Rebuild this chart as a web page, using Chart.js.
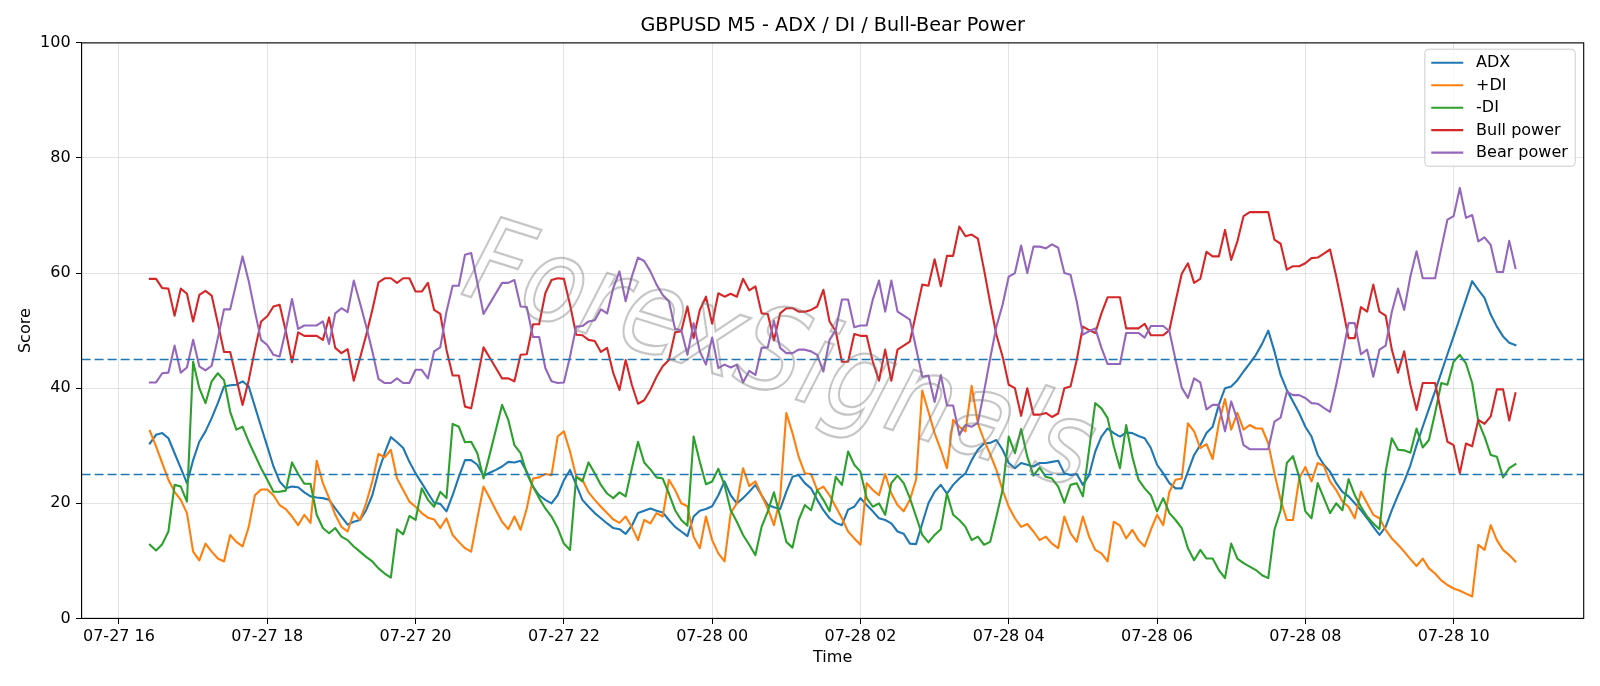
<!DOCTYPE html>
<html>
<head>
<meta charset="utf-8">
<script src="https://cdn.jsdelivr.net/npm/chart.js@4.4.1/dist/chart.umd.min.js"></script>
<style>
html,body{margin:0;padding:0;background:#ffffff;}
#wrap{width:1600px;height:686px;position:relative;}
canvas{display:block;}
</style>
</head>
<body>
<div id="wrap"><canvas id="c" width="1600" height="686"></canvas></div>
<script>
// ---------------- data ----------------
const chartTitle = "GBPUSD M5 - ADX / DI / Bull-Bear Power";
const xTitle = "Time";
const yTitle = "Score";
const startMinute = 16 * 60 + 25;   // 07-27 16:25 (minutes since 07-27 00:00)
const stepMinutes = 5;              // M5 bars

const adx = [
  30.4,31.9,32.2,31.3,28.7,26.1,23.5,27.5,30.7,32.5,
  34.8,37.4,40.3,40.5,40.6,41.2,40.3,36.8,33.3,29.9,
  26.4,23.8,22.6,22.9,22.8,21.9,21.2,21.0,20.9,20.6,
  19.1,17.7,16.3,16.8,17.1,18.8,21.4,25.5,28.7,31.5,
  30.6,29.6,27.2,25.2,23.5,21.8,20.1,19.9,18.6,21.4,
  24.6,27.5,27.5,26.7,24.8,25.3,25.8,26.4,27.2,27.1,
  27.4,25.5,22.9,21.4,20.6,20.0,21.4,24.0,25.8,23.2,
  20.6,19.4,18.3,17.4,16.5,15.7,15.5,14.7,16.1,18.3,
  18.7,19.1,18.7,18.4,17.1,15.9,15.1,14.3,17.7,18.7,
  19.0,19.5,21.4,23.8,21.4,20.0,20.9,22.0,23.2,21.4,
  19.7,19.3,19.0,22.0,24.6,24.9,23.5,22.6,20.6,18.8,
  17.4,16.6,16.2,18.9,19.4,20.9,19.7,18.6,17.4,17.1,
  16.5,15.1,14.7,13.0,12.9,16.5,20.0,22.0,23.2,21.7,
  23.2,24.3,25.2,27.5,29.3,30.4,30.5,31.0,29.3,27.0,
  26.1,27.0,26.7,26.4,27.0,27.0,27.2,27.4,25.2,24.9,
  25.1,23.2,24.9,29.0,31.6,33.0,32.2,31.6,32.3,32.2,
  31.7,31.3,29.6,26.7,25.2,23.5,22.6,22.6,25.5,28.4,
  30.1,32.2,33.3,37.1,40.0,40.3,41.4,42.9,44.3,45.8,
  47.7,50.0,46.4,42.3,39.7,37.7,35.7,33.3,31.6,28.4,
  26.7,25.5,23.5,22.0,21.2,20.0,18.8,17.4,15.9,14.5,
  15.9,18.8,21.4,23.8,26.6,30.1,33.3,36.4,39.5,42.7,
  45.9,49.0,52.2,55.4,58.6,57.1,55.7,52.8,50.7,49.0,
  47.9,47.5
];

const plusDI = [
  32.6,29.9,27.0,24.1,22.0,20.6,18.3,11.6,10.1,13.0,
  11.6,10.4,9.9,14.5,13.3,12.5,15.9,21.4,22.4,22.4,
  21.4,19.7,19.0,17.7,16.2,18.0,16.6,27.4,23.5,20.9,
  18.0,15.9,15.1,18.4,17.1,20.0,23.8,28.6,28.0,29.3,
  24.3,22.3,20.3,19.4,18.3,17.5,17.2,15.7,17.4,14.5,
  13.3,12.2,11.6,17.4,22.9,20.9,18.8,16.8,15.5,17.7,
  15.4,19.1,24.3,24.5,25.1,24.9,31.6,32.5,29.0,24.6,
  24.1,21.9,20.6,19.4,18.3,17.2,16.6,17.7,15.9,13.6,
  17.1,16.5,18.3,17.7,24.1,22.3,20.0,19.5,14.2,12.2,
  17.7,13.6,11.3,9.9,18.3,20.0,26.1,23.0,23.8,21.4,
  19.1,16.2,20.9,35.7,32.2,28.1,25.2,25.1,22.3,22.9,
  21.4,19.4,17.4,15.1,13.9,12.8,23.5,22.3,21.4,25.1,
  21.7,19.7,18.6,20.6,24.1,39.6,35.9,32.2,29.3,26.1,
  34.5,33.3,32.5,40.4,33.9,31.0,28.5,25.8,22.3,19.4,
  17.4,15.9,16.4,15.1,13.6,14.2,13.0,12.2,17.7,14.8,
  13.3,17.7,14.2,11.9,11.3,9.9,16.8,16.1,13.9,15.4,
  13.6,12.5,15.4,18.0,16.2,22.0,24.1,24.3,33.9,32.5,
  29.6,30.3,27.7,33.9,38.1,32.8,35.7,32.8,33.6,33.0,
  33.0,30.4,25.2,20.6,17.1,17.1,24.3,26.3,23.8,27.0,
  26.5,23.8,22.3,20.3,19.4,17.4,22.0,20.0,18.0,17.4,
  15.4,13.9,12.8,11.6,10.3,9.1,10.4,8.7,7.8,6.6,
  5.8,5.2,4.8,4.3,3.8,12.8,11.9,16.2,13.6,11.9,
  11.0,9.9
];

const minusDI = [
  12.8,11.8,12.9,15.1,23.2,22.9,20.3,44.6,40.0,37.4,
  41.2,42.6,41.4,35.9,32.8,33.3,30.7,28.4,26.1,24.1,
  22.0,22.0,22.2,27.1,25.1,23.4,23.4,18.0,15.7,14.8,
  15.7,14.2,13.6,12.5,11.6,10.7,9.9,8.7,7.8,7.1,
  15.5,14.6,17.8,17.1,22.6,20.6,19.4,22.0,20.9,33.8,
  33.3,30.6,30.7,28.7,24.3,28.5,32.8,37.1,34.5,30.1,
  28.7,25.2,22.9,20.9,19.1,17.7,15.7,13.0,11.9,24.6,
  23.8,27.1,25.2,23.2,21.7,20.9,21.9,21.2,26.1,30.7,
  27.1,25.9,24.5,24.3,21.7,18.8,17.1,16.1,31.6,27.2,
  23.3,23.8,26.0,23.2,18.8,16.8,14.5,12.8,11.0,15.9,
  18.6,21.9,17.7,13.3,12.3,17.1,19.7,18.8,22.3,20.6,
  18.6,24.6,23.2,29.0,26.7,25.5,20.9,19.4,20.0,18.0,
  23.5,24.8,23.5,20.9,17.7,14.5,13.2,14.5,15.5,21.7,
  18.0,17.1,15.9,13.6,14.2,12.8,13.3,17.7,22.3,31.6,
  28.7,32.9,28.1,24.8,26.2,24.6,24.3,22.9,20.1,23.2,
  23.5,21.2,29.3,37.4,36.5,34.8,29.9,26.1,33.6,28.1,
  24.1,22.6,21.4,18.6,20.9,18.3,17.1,15.7,12.2,10.1,
  11.9,10.4,10.4,8.4,7.0,13.0,10.4,9.6,9.0,8.4,
  7.5,7.0,15.4,18.8,27.0,28.2,24.6,18.6,17.4,23.5,
  20.9,18.3,20.0,18.8,24.2,21.4,19.4,17.7,16.5,15.5,
  25.5,31.3,29.3,29.2,28.8,33.0,29.7,31.0,35.7,40.9,
  40.6,44.6,45.8,44.3,40.9,34.2,31.6,28.4,28.1,24.5,
  26.1,26.8
];

const bullPower = [
  59.0,59.0,57.4,57.3,52.6,57.3,56.4,51.6,56.2,56.9,
  56.1,51.3,46.3,46.3,41.7,37.1,41.4,46.7,51.6,52.5,
  54.2,54.5,49.9,44.5,49.7,49.1,49.1,49.1,48.4,52.3,
  47.0,46.1,46.8,41.3,45.2,49.2,53.6,58.4,59.1,59.1,
  58.3,59.1,59.1,56.8,56.8,58.3,53.6,52.9,46.7,42.2,
  42.2,36.8,36.5,41.7,47.1,45.3,43.5,41.7,41.7,41.2,
  45.8,45.9,51.1,51.1,56.5,58.8,59.1,59.0,54.5,49.3,
  49.2,48.4,48.2,46.3,47.0,42.6,39.7,44.9,40.6,37.3,
  37.9,39.7,42.0,43.8,44.9,49.7,49.9,54.2,48.7,53.6,
  55.9,51.2,56.5,55.9,56.4,55.9,59.0,57.0,57.7,53.0,
  52.9,48.3,53.0,53.9,53.9,53.3,53.3,53.6,54.2,57.1,
  51.6,49.9,44.6,44.6,49.4,49.1,49.1,44.6,41.3,46.7,
  41.3,46.7,47.4,48.1,53.0,58.0,57.8,62.4,57.7,63.0,
  63.0,68.1,66.4,66.7,66.0,60.6,54.8,49.3,45.5,40.6,
  40.0,35.2,40.0,35.4,35.4,35.7,35.0,35.6,40.0,40.3,
  44.9,50.7,50.1,49.6,53.0,55.8,55.8,55.8,50.4,50.4,
  50.4,51.2,49.2,49.2,49.2,50.1,55.1,59.9,61.7,58.3,
  59.0,63.7,62.9,62.9,67.5,62.3,65.5,69.9,70.6,70.6,
  70.6,70.6,65.8,65.1,60.6,61.2,61.2,61.7,62.6,62.7,
  63.4,64.1,59.4,54.2,48.7,48.7,54.1,53.3,58.0,53.3,
  52.6,46.7,42.7,46.4,40.6,36.2,40.9,40.9,40.9,35.7,
  30.7,30.1,25.2,30.4,29.9,34.5,33.8,35.1,39.8,39.8,
  34.4,39.1
];

const bearPower = [
  41.0,41.0,42.6,42.7,47.4,42.7,43.6,48.4,43.8,43.1,
  43.9,48.7,53.7,53.7,58.3,62.9,58.6,53.3,48.4,47.5,
  45.8,45.5,50.1,55.5,50.3,50.9,50.9,50.9,51.6,47.7,
  53.0,53.9,53.2,58.7,54.8,50.8,46.4,41.6,40.9,40.9,
  41.7,40.9,40.9,43.2,43.2,41.7,46.4,47.1,53.3,57.8,
  57.8,63.2,63.5,58.3,52.9,54.7,56.5,58.3,58.3,58.8,
  54.2,54.1,48.9,48.9,43.5,41.2,40.9,41.0,45.5,50.7,
  50.8,51.6,51.8,53.7,53.0,57.4,60.3,55.1,59.4,62.7,
  62.1,60.3,58.0,56.2,55.1,50.3,50.1,45.8,51.3,46.4,
  44.1,48.8,43.5,44.1,43.6,44.1,41.0,43.0,42.3,47.0,
  47.1,51.7,47.0,46.1,46.1,46.7,46.7,46.4,45.8,42.9,
  48.4,50.1,55.4,55.4,50.6,50.9,50.9,55.4,58.7,53.3,
  58.7,53.3,52.6,51.9,47.0,42.0,42.2,37.6,42.3,37.0,
  37.0,31.9,33.6,33.3,34.0,39.4,45.2,50.7,54.5,59.4,
  60.0,64.8,60.0,64.6,64.6,64.3,65.0,64.4,60.0,59.7,
  55.1,49.3,49.9,50.4,47.0,44.2,44.2,44.2,49.6,49.6,
  49.6,48.8,50.8,50.8,50.8,49.9,44.9,40.1,38.3,41.7,
  41.0,36.3,37.1,37.1,32.5,37.7,34.5,30.1,29.4,29.4,
  29.4,29.4,34.2,34.9,39.4,38.8,38.8,38.3,37.4,37.3,
  36.6,35.9,40.6,45.8,51.3,51.3,45.9,46.7,42.0,46.7,
  47.4,53.3,57.3,53.6,59.4,63.8,59.1,59.1,59.1,64.3,
  69.3,69.9,74.8,69.6,70.1,65.5,66.2,64.9,60.2,60.2,
  65.6,60.9
];

const seriesLabels = ["ADX", "+DI", "-DI", "Bull power", "Bear power"];
const referenceLevels = [45, 25];
const tickHours = [16, 18, 20, 22, 24, 26, 28, 30, 32, 34];
const tickLabels = ["07-27 16","07-27 18","07-27 20","07-27 22","07-28 00","07-28 02","07-28 04","07-28 06","07-28 08","07-28 10"];
const yTicks = [0, 20, 40, 60, 80, 100];
const watermarkText = "ForexSignals";

// ---------------- style ----------------
const colors = ["#1f77b4", "#ff7f0e", "#2ca02c", "#d62728", "#9467bd"];
const FONT = '"DejaVu Sans", "Liberation Sans", sans-serif';
const FS = 16;        // tick / label / legend font size (px)
const TITLE_FS = 19.2;
const seriesValues = [adx, plusDI, minusDI, bullPower, bearPower];

const times = adx.map((_, i) => startMinute + i * stepMinutes);
const tMin = times[0], tMax = times[times.length - 1];
const margin = (tMax - tMin) * 0.05;

const datasets = seriesValues.map((vals, k) => ({
  label: seriesLabels[k],
  data: vals.map((v, i) => ({ x: times[i], y: v })),
  borderColor: colors[k],
  backgroundColor: colors[k],
  borderWidth: 2.1,
  pointRadius: 0,
  pointHoverRadius: 0,
  tension: 0,
  fill: false,
  borderJoinStyle: 'round',
  borderCapStyle: 'square',
  order: seriesValues.length - 1 - k
}));

const decorPlugin = {
  id: 'decor',
  afterDatasetsDraw(chart) {
    const { ctx, chartArea: a, scales: { y } } = chart;
    ctx.save();
    ctx.beginPath();
    ctx.rect(a.left, a.top, a.right - a.left, a.bottom - a.top);
    ctx.clip();
    // reference lines
    ctx.strokeStyle = '#1f77b4';
    ctx.lineWidth = 1.6;
    ctx.setLineDash([9, 4]);
    referenceLevels.forEach(v => {
      const py = y.getPixelForValue(v);
      ctx.beginPath();
      ctx.moveTo(a.left, py);
      ctx.lineTo(a.right, py);
      ctx.stroke();
    });
    ctx.setLineDash([]);
    // watermark
    ctx.translate(778, 362);
    ctx.rotate(17.5 * Math.PI / 180);
    ctx.font = 'italic 90px ' + FONT;
    const w = ctx.measureText(watermarkText).width;
    const sc = 650 / w;
    ctx.scale(sc, sc * 1.15);
    ctx.textAlign = 'center';
    ctx.textBaseline = 'middle';
    ctx.strokeStyle = 'rgba(120,120,120,0.42)';
    ctx.lineWidth = 2.0 / sc;
    ctx.strokeText(watermarkText, 0, 0);
    ctx.restore();
  },
  afterDraw(chart) {
    const { ctx, chartArea: a } = chart;
    ctx.save();
    // title centred over the axes (matplotlib style)
    ctx.font = TITLE_FS + 'px ' + FONT;
    ctx.fillStyle = '#000';
    ctx.textAlign = 'center';
    ctx.textBaseline = 'middle';
    ctx.fillText(chartTitle, (a.left + a.right) / 2, 26);
    // spines
    ctx.strokeStyle = '#000';
    ctx.lineWidth = 1.1;
    ctx.strokeRect(a.left, a.top, a.right - a.left, a.bottom - a.top);
    // legend (matplotlib-like, upper right)
    ctx.font = FS + 'px ' + FONT;
    const textW = Math.max(...seriesLabels.map(s => ctx.measureText(s).width));
    const borderPad = 0.4 * FS, handleLen = 2.0 * FS, handleTextPad = 0.8 * FS;
    const boxW = 2 * borderPad + handleLen + handleTextPad + textW + 1;
    const rowH = 22.45;
    const firstRow = 13.6;
    const boxH = firstRow * 2 + rowH * (seriesLabels.length - 1);
    const right = a.right - 8.5;
    const top = a.top + 6.3;
    const left = right - boxW;
    const r = 3.5;
    ctx.beginPath();
    ctx.moveTo(left + r, top);
    ctx.lineTo(right - r, top);
    ctx.quadraticCurveTo(right, top, right, top + r);
    ctx.lineTo(right, top + boxH - r);
    ctx.quadraticCurveTo(right, top + boxH, right - r, top + boxH);
    ctx.lineTo(left + r, top + boxH);
    ctx.quadraticCurveTo(left, top + boxH, left, top + boxH - r);
    ctx.lineTo(left, top + r);
    ctx.quadraticCurveTo(left, top, left + r, top);
    ctx.closePath();
    ctx.fillStyle = 'rgba(255,255,255,0.8)';
    ctx.fill();
    ctx.strokeStyle = '#cccccc';
    ctx.lineWidth = 1;
    ctx.stroke();
    ctx.textAlign = 'left';
    ctx.textBaseline = 'middle';
    seriesLabels.forEach((lab, k) => {
      const cy = top + firstRow + k * rowH;
      ctx.strokeStyle = colors[k];
      ctx.lineWidth = 2.1;
      ctx.beginPath();
      ctx.moveTo(left + borderPad, cy);
      ctx.lineTo(left + borderPad + handleLen, cy);
      ctx.stroke();
      ctx.fillStyle = '#000';
      ctx.fillText(lab, left + borderPad + handleLen + handleTextPad, cy + 0.5);
    });
    ctx.restore();
  }
};

const gridColor = 'rgba(176,176,176,0.35)';

new Chart(document.getElementById('c'), {
  type: 'line',
  data: { datasets },
  plugins: [decorPlugin],
  options: {
    responsive: false,
    animation: false,
    devicePixelRatio: 1,
    layout: { padding: { left: 0, right: 16.3, top: 42.9, bottom: 0 } },
    plugins: {
      legend: { display: false },
      tooltip: { enabled: false },
      title: { display: false, text: chartTitle }
    },
    scales: {
      x: {
        type: 'linear',
        min: tMin - margin,
        max: tMax + margin,
        afterBuildTicks: (s) => { s.ticks = tickHours.map(h => ({ value: h * 60 })); },
        afterFit: (s) => { s.height = 67.6; },
        ticks: {
          autoSkip: false,
          maxRotation: 0,
          color: '#000',
          padding: 3.5,
          font: { family: FONT, size: FS },
          callback: (v) => tickLabels[tickHours.indexOf(v / 60)]
        },
        grid: { color: gridColor, lineWidth: 1, tickColor: '#000', tickLength: 5.6, drawTicks: true },
        border: { display: true, color: '#000', width: 1 },
        title: {
          display: true, text: xTitle, color: '#000',
          font: { family: FONT, size: FS, lineHeight: 1.2 },
          padding: { top: 0, bottom: 18.6 }
        }
      },
      y: {
        type: 'linear',
        min: 0,
        max: 100,
        afterBuildTicks: (s) => { s.ticks = yTicks.map(v => ({ value: v })); },
        afterFit: (s) => { s.width = 81.6; },
        ticks: {
          color: '#000',
          padding: 5.4,
          font: { family: FONT, size: FS }
        },
        grid: { color: gridColor, lineWidth: 1, tickColor: '#000', tickLength: 5.6, drawTicks: true },
        border: { display: true, color: '#000', width: 1 },
        title: {
          display: true, text: yTitle, color: '#000',
          font: { family: FONT, size: FS, lineHeight: 1.2 },
          padding: { top: 16.3, bottom: 0 }
        }
      }
    }
  }
});
</script>
</body>
</html>
